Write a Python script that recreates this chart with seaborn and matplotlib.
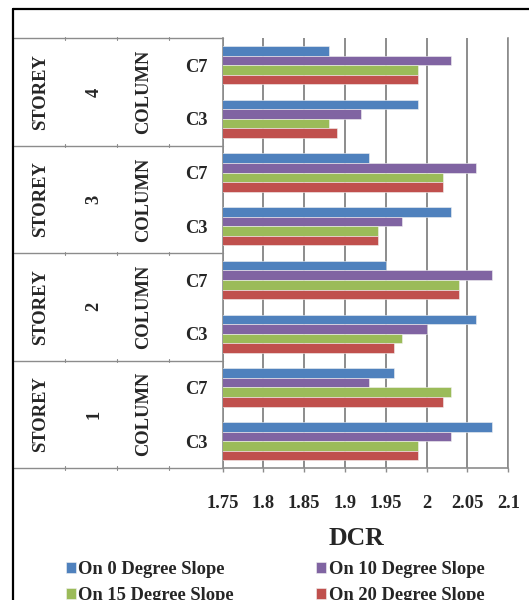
import numpy as np
import pandas as pd
import matplotlib
matplotlib.use("Agg")
import matplotlib.pyplot as plt
import matplotlib.transforms as mtransforms
from matplotlib.lines import Line2D
import seaborn as sns

# ---- data ----
storeys = ['4', '4', '3', '3', '2', '2', '1', '1']
columns = ['C7', 'C3', 'C7', 'C3', 'C7', 'C3', 'C7', 'C3']
series_names = ['On 0 Degree Slope', 'On 10 Degree Slope',
                'On 15 Degree Slope', 'On 20 Degree Slope']
s0 = [1.88, 1.99, 1.93, 2.03, 1.95, 2.06, 1.96, 2.08]
s10 = [2.03, 1.92, 2.06, 1.97, 2.08, 2.00, 1.93, 2.03]
s15 = [1.99, 1.88, 2.02, 1.94, 2.04, 1.97, 2.03, 1.99]
s20 = [1.99, 1.89, 2.02, 1.94, 2.04, 1.96, 2.02, 1.99]
xticks = [1.75, 1.8, 1.85, 1.9, 1.95, 2.0, 2.05, 2.1]
xticklabels = ['1.75', '1.8', '1.85', '1.9', '1.95', '2', '2.05', '2.1']
colors = ['#4F81BD', '#8064A2', '#9BBB59', '#C0504D']

cats = [f'{s}|{c}' for s, c in zip(storeys, columns)]
rows = []
for name, vals in zip(series_names, [s0, s10, s15, s20]):
    for cat, v in zip(cats, vals):
        rows.append({'cat': cat, 'series': name, 'DCR': v})
df = pd.DataFrame(rows)

sns.set_style('white')
plt.rcParams['font.family'] = ['Liberation Serif', 'DejaVu Serif']
plt.rcParams['font.weight'] = 'bold'

W, H = 529, 600
fig = plt.figure(figsize=(W / 100, H / 100), dpi=100)
ax_l, ax_r, ax_t, ax_b = 222.5, 508.3, 38.3, 468.0
ax = fig.add_axes([ax_l / W, 1 - ax_b / H, (ax_r - ax_l) / W, (ax_b - ax_t) / H])

grid_c = '#8c8c8c'
sns.barplot(data=df, y='cat', x='DCR', hue='series', order=cats,
            hue_order=series_names, palette=colors, orient='h',
            width=0.713, ax=ax, edgecolor='#f2f2f2', linewidth=0.4,
            saturation=1, legend=True, zorder=3)

ax.set_xlim(1.75, 2.1)
ax.set_ylim(7.5, -0.5)
ax.set_xticks(xticks)
ax.set_xticklabels(xticklabels, fontsize=13.3, fontweight='bold')
off = mtransforms.ScaledTranslation(-4 / 100, 0, fig.dpi_scale_trans)
for lbl in ax.get_xticklabels():
    lbl.set_transform(lbl.get_transform() + off)
ax.tick_params(axis='x', direction='out', length=3, width=1, color=grid_c,
               pad=16.5, bottom=True)
ax.set_yticks(range(len(cats)))
ax.set_yticklabels(columns, fontsize=13.3, fontweight='bold')
ax.tick_params(axis='y', length=0, pad=11)
ax.set_xlabel('')
ax.set_ylabel('')
ax.grid(axis='x', color=grid_c, linewidth=1.4, zorder=0)
ax.grid(axis='y', visible=False)
ax.set_axisbelow(True)
for sp in ['left', 'bottom', 'right']:
    ax.spines[sp].set_color(grid_c)
    ax.spines[sp].set_linewidth(1.2)
    ax.spines[sp].set_visible(True)
ax.spines['top'].set_visible(False)

# multi-level category table
tr = mtransforms.blended_transform_factory(fig.transFigure, ax.transData)
for yb in [-0.5, 1.5, 3.5, 5.5, 7.5]:
    ax.add_line(Line2D([14 / W, ax_l / W], [yb, yb], transform=tr,
                       color=grid_c, lw=1.0, clip_on=False))
    for xt in [65, 117, 169]:
        ax.add_line(Line2D([xt / W, xt / W], [yb - 0.03, yb + 0.03],
                           transform=tr, color=grid_c, lw=0.8, clip_on=False))

storey_ids = ['4', '3', '2', '1']
for i, sid in enumerate(storey_ids):
    yc = 2 * i + 0.5
    ax.text(40.5 / W, yc, 'STOREY', transform=tr, rotation=90, ha='center',
            va='center', fontsize=13.3, fontweight='bold')
    ax.text(94 / W, yc, sid, transform=tr, rotation=90, ha='center',
            va='center', fontsize=13.3, fontweight='bold')
    ax.text(144 / W, yc, 'COLUMN', transform=tr, rotation=90, ha='center',
            va='center', fontsize=13.3, fontweight='bold')

# axis title
fig.text(356 / W, 1 - 545 / H, 'DCR', ha='center', va='baseline',
         fontsize=18.5, fontweight='bold')

# legend (row-major order)
handles, labels = ax.get_legend_handles_labels()
ax.get_legend().remove()
order = [0, 2, 1, 3]
fig.legend([handles[i] for i in order], [labels[i] for i in order],
           loc='upper left', bbox_to_anchor=(65.5 / W, 1 - 561 / H), ncol=2,
           frameon=False, prop={'family': 'Liberation Serif', 'weight': 'bold',
                                'size': 13.3},
           handlelength=0.55, handleheight=0.55, handletextpad=0.15,
           columnspacing=4.45, labelspacing=0.5, borderpad=0, borderaxespad=0)

# outer chart frame
fig.add_artist(Line2D([13 / W, 13 / W], [0, 1 - 8.5 / H], transform=fig.transFigure,
                      color='black', lw=1.6))
fig.add_artist(Line2D([13 / W, 1], [1 - 8.5 / H, 1 - 8.5 / H],
                      transform=fig.transFigure, color='black', lw=1.6))

fig.savefig('out.png', dpi=100)
